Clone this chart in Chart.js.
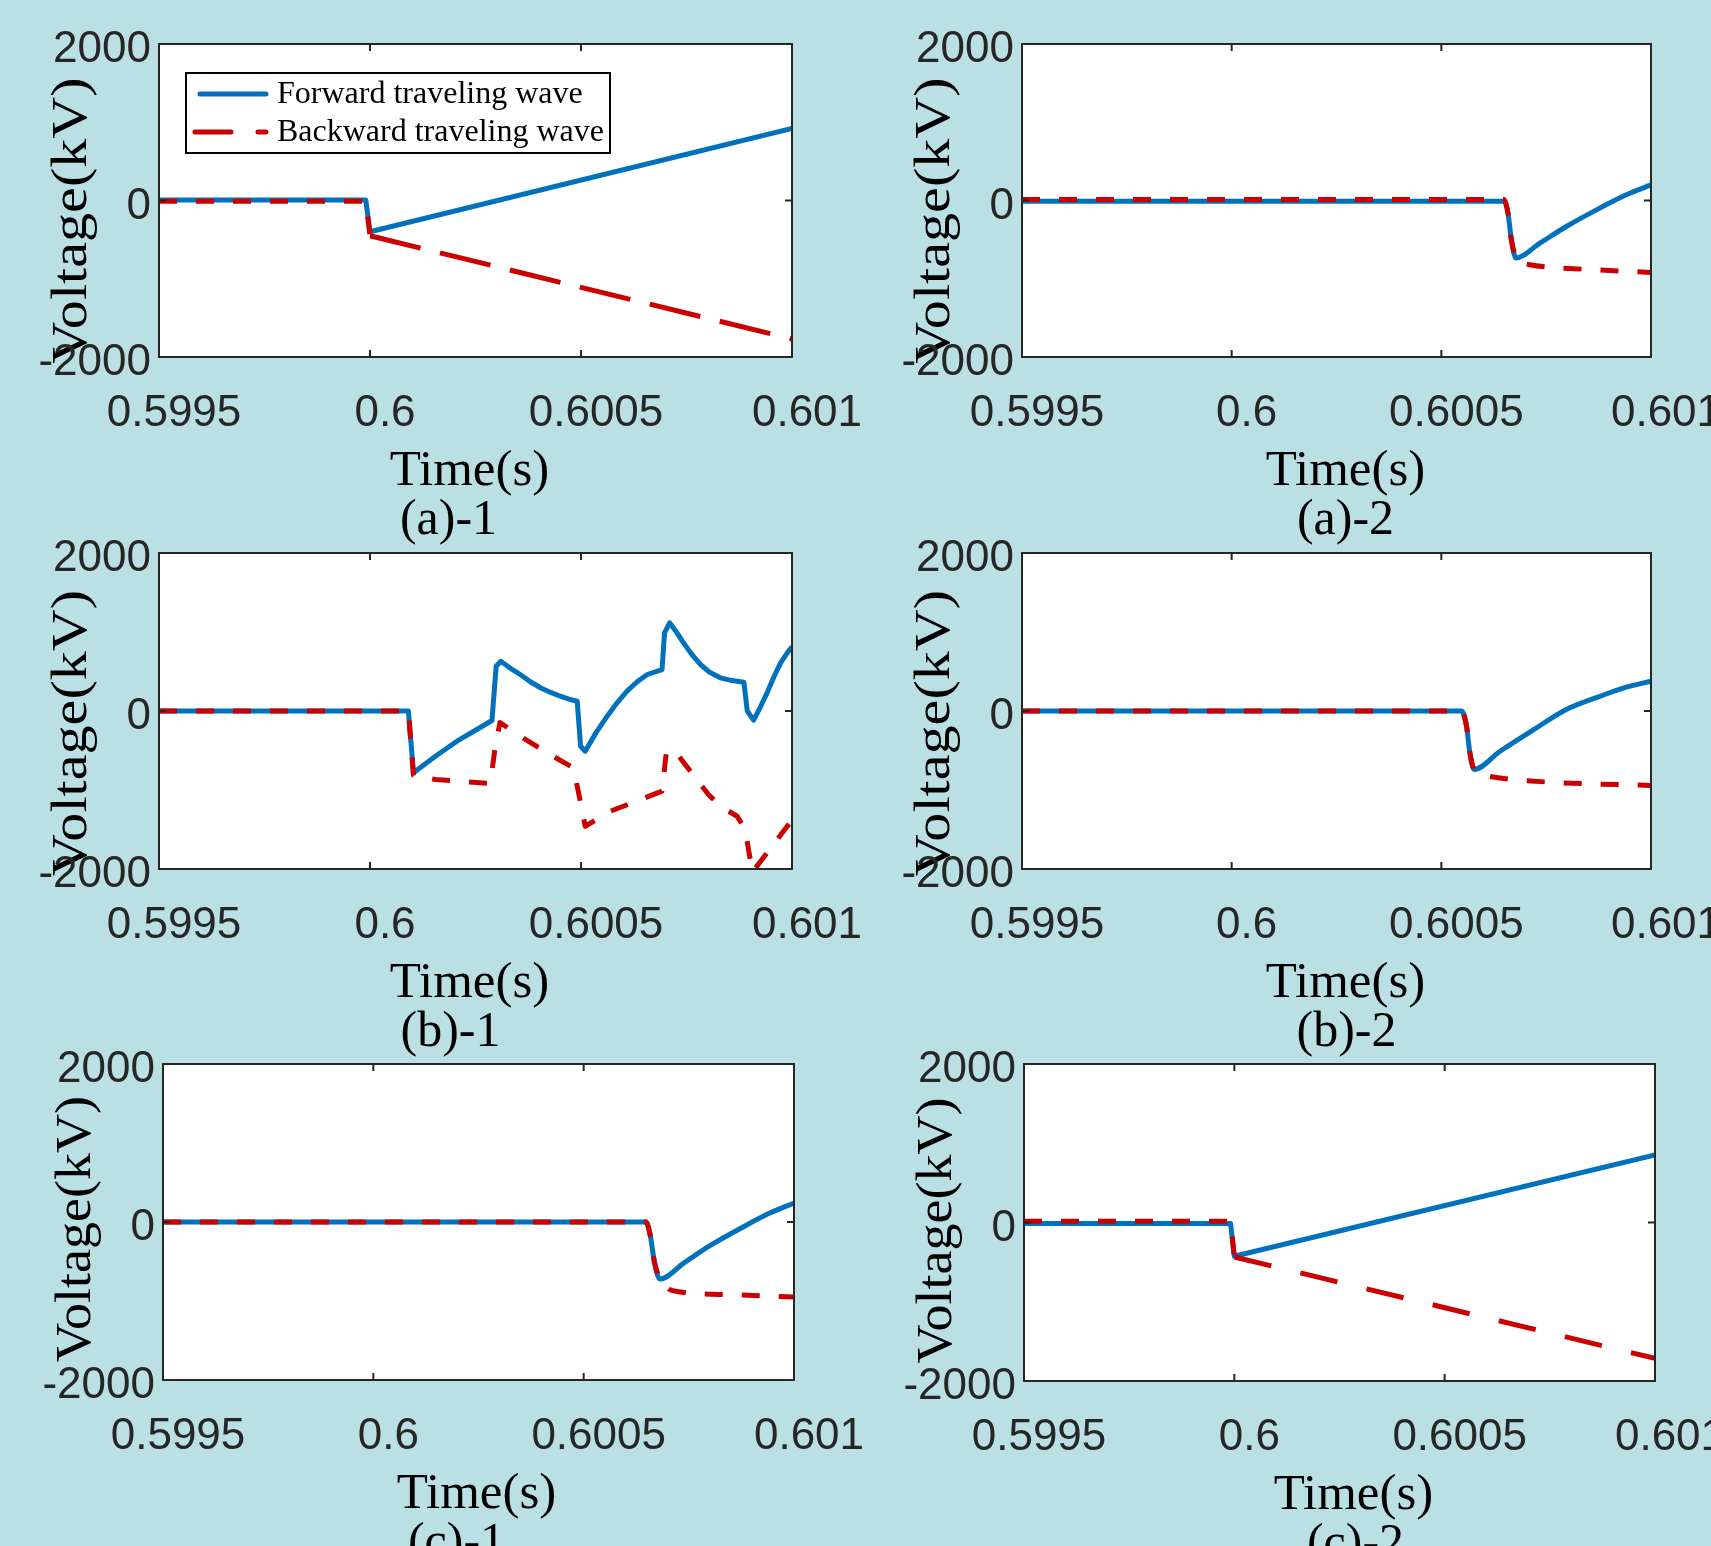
<!DOCTYPE html>
<html>
<head>
<meta charset="utf-8">
<title>Forward and backward traveling waves</title>
<script src="https://cdn.jsdelivr.net/npm/chart.js@4.4.1/dist/chart.umd.min.js"></script>
<style>
  html, body { margin: 0; padding: 0; }
  body { width: 1711px; height: 1546px; background: #bae0e3; position: relative; overflow: hidden; }
  canvas { position: absolute; }
</style>
</head>
<body>
<canvas id="a1"></canvas>
<canvas id="a2"></canvas>
<canvas id="b1"></canvas>
<canvas id="b2"></canvas>
<canvas id="c1"></canvas>
<canvas id="c2"></canvas>
<script>
// Axis ticks shared by all six panels
const xTicks = [0.5995, 0.6, 0.6005, 0.601];
const xTickLabels = ['0.5995', '0.6', '0.6005', '0.601'];
const yTicks = [-2000, 0, 2000];
const yTickLabels = ['-2000', '0', '2000'];

const seriesNames = ['Forward traveling wave', 'Backward traveling wave'];

// (a)-1
const timeA1 = [0.5995, 0.59999, 0.6000, 0.601];
const fwdA1 = [5, 5, -400, 922];
const bwdA1 = [-10, -10, -450, -1770];

// (a)-2
const timeA2f = [0.5995, 0.600649, 0.600659, 0.600667, 0.600678, 0.600735, 0.600798, 0.600878, 0.600941, 0.601];
const fwdA2 = [-8, -8, -161, -502, -735, -545, -332, -97, 73, 200];
const timeA2b = [0.5995, 0.600649, 0.600659, 0.600667, 0.600678, 0.600690, 0.600711, 0.600760, 0.600838, 0.601];
const bwdA2 = [13, 13, -161, -502, -735, -790, -821, -855, -878, -919];

// (b)-1
const timeB1f = [0.5995, 0.600091, 0.600103, 0.600155, 0.600206, 0.600253, 0.600289, 0.600299, 0.600310,
  0.600333, 0.600356, 0.600380, 0.600404, 0.600428, 0.600451, 0.600471, 0.600491, 0.600499, 0.600510,
  0.600535, 0.600562, 0.600585, 0.600609, 0.600633, 0.600657, 0.600692, 0.600698, 0.600710, 0.600726,
  0.600743, 0.600762, 0.600783, 0.600805, 0.600830, 0.600858, 0.600886, 0.600894, 0.600909, 0.600925,
  0.600941, 0.600957, 0.600973, 0.600988, 0.601];
const fwdB1 = [0, 0, -782, -572, -382, -234, -120, 567, 630,
  540, 462, 370, 294, 235, 187, 150, 124, -446, -509,
  -280, -66, 100, 251, 370, 462, 525, 990, 1116, 1000,
  863, 720, 589, 490, 420, 385, 365, 0, -116, 50,
  230, 430, 610, 730, 813];
const timeB1b = [0.5995, 0.600091, 0.600103, 0.600155, 0.600285, 0.600297, 0.600308, 0.600368, 0.600447,
  0.600482, 0.600499, 0.600510, 0.600570, 0.600692, 0.600702, 0.600720, 0.600747, 0.600802, 0.600830,
  0.600870, 0.600889, 0.600906, 0.600992, 0.601];
const bwdB1 = [0, 0, -815, -867, -918, -446, -146, -360, -614,
  -719, -1160, -1459, -1268, -1015, -529, -487, -677, -1057, -1205,
  -1332, -1500, -2040, -1437, -1380];

// (b)-2
const timeB2f = [0.5995, 0.600548, 0.600560, 0.600568, 0.600578, 0.600640, 0.600719, 0.600798, 0.600878, 0.600941, 0.601];
const fwdB2 = [0, 0, -190, -527, -740, -510, -240, 19, 185, 301, 377];
const timeB2b = [0.5995, 0.600548, 0.600560, 0.600568, 0.600578, 0.600600, 0.600640, 0.600759, 0.601];
const bwdB2 = [0, 0, -190, -527, -740, -810, -848, -901, -943];

// (c)-1
const timeC1f = [0.5995, 0.600648, 0.600658, 0.600668, 0.600681, 0.600738, 0.600800, 0.600880, 0.600941, 0.601];
const fwdC1 = [0, 0, -160, -500, -722, -520, -300, -60, 110, 240];
const timeC1b = [0.5995, 0.600648, 0.600658, 0.600668, 0.600681, 0.600692, 0.600709, 0.600846, 0.601];
const bwdC1 = [0, 0, -160, -500, -722, -790, -865, -920, -949];

// (c)-2
const timeC2 = [0.5995, 0.599991, 0.6000, 0.601];
const fwdC2 = [-13, -13, -426, 852];
const bwdC2 = [17, 17, -435, -1715];

const BLUE = '#0072bd';
const RED = '#cc0000';
const INK = '#262626';
const SERIF = '"Liberation Serif", "Times New Roman", serif';
const SANS = '"Liberation Sans", Arial, sans-serif';
const SHORT_DASH = [18, 19];

// Where each panel sits on the page (plot box and its canvas)
const panels = [
  { id: 'a1', name: '(a)-1', fwd: [timeA1, fwdA1], bwd: [timeA1, bwdA1],
    box: { x: 159, y: 44, w: 633, h: 313 }, canvas: { x: 0, y: 0, w: 880, h: 560 },
    yTitleStretch: 1.14, yTitleDy: 20, xTitleDx: -6, nameDx: -27, legend: true,
    longDashFrom: 0.6, longDash: [52, 20] },
  { id: 'a2', name: '(a)-2', fwd: [timeA2f, fwdA2], bwd: [timeA2b, bwdA2],
    box: { x: 1022, y: 44, w: 629, h: 313 }, canvas: { x: 860, y: 0, w: 920, h: 560 },
    yTitleStretch: 1.14, yTitleDy: 20, xTitleDx: 9, nameDx: 9, smooth: true },
  { id: 'b1', name: '(b)-1', fwd: [timeB1f, fwdB1], bwd: [timeB1b, bwdB1],
    box: { x: 159, y: 553, w: 633, h: 316 }, canvas: { x: 0, y: 509, w: 880, h: 560 },
    yTitleStretch: 1.14, yTitleDy: 22, xTitleDx: -6, nameDx: -25 },
  { id: 'b2', name: '(b)-2', fwd: [timeB2f, fwdB2], bwd: [timeB2b, bwdB2],
    box: { x: 1022, y: 553, w: 629, h: 316 }, canvas: { x: 860, y: 509, w: 920, h: 560 },
    yTitleStretch: 1.14, yTitleDy: 22, xTitleDx: 9, nameDx: 10, smooth: true },
  { id: 'c1', name: '(c)-1', fwd: [timeC1f, fwdC1], bwd: [timeC1b, bwdC1],
    box: { x: 163, y: 1064, w: 631, h: 316 }, canvas: { x: 0, y: 1020, w: 880, h: 526 },
    yTitleStretch: 1.06, yTitleDy: 7, xTitleDx: -2, nameDx: -22, smooth: true },
  { id: 'c2', name: '(c)-2', fwd: [timeC2, fwdC2], bwd: [timeC2, bwdC2],
    box: { x: 1024, y: 1064, w: 631, h: 317 }, canvas: { x: 860, y: 1020, w: 920, h: 526 },
    yTitleStretch: 1.06, yTitleDy: 8, xTitleDx: 14, nameDx: 16,
    longDashFrom: 0.6, longDash: [38, 30] }
];

function toPoints(times, values) {
  return times.map((t, i) => ({ x: t, y: values[i] }));
}

// White axes background, MATLAB style box with inward ticks, titles and legend
function framePlugin(p) {
  return {
    id: 'frame',
    beforeDraw(chart) {
      const { ctx, chartArea: a } = chart;
      ctx.save();
      ctx.fillStyle = '#ffffff';
      ctx.fillRect(a.left, a.top, a.right - a.left, a.bottom - a.top);

      // y title sits under the tick labels, as in the original figure
      ctx.fillStyle = '#000000';
      ctx.textAlign = 'center';
      ctx.textBaseline = 'alphabetic';
      ctx.translate(a.left - 73, (a.top + a.bottom) / 2 + p.yTitleDy);
      ctx.rotate(-Math.PI / 2);
      ctx.scale(p.yTitleStretch, 1);
      ctx.font = '51px ' + SERIF;
      ctx.fillText('Voltage(kV)', 0, 0);
      ctx.restore();
    },
    afterDatasetsDraw(chart) {
      const { ctx, chartArea: a, scales } = chart;
      ctx.save();
      ctx.strokeStyle = INK;
      ctx.lineWidth = 2;
      ctx.strokeRect(a.left, a.top, a.right - a.left, a.bottom - a.top);
      ctx.beginPath();
      scales.x.ticks.forEach(t => {
        const px = scales.x.getPixelForValue(t.value);
        ctx.moveTo(px, a.bottom); ctx.lineTo(px, a.bottom - 7);
        ctx.moveTo(px, a.top); ctx.lineTo(px, a.top + 7);
      });
      scales.y.ticks.forEach(t => {
        const py = scales.y.getPixelForValue(t.value);
        ctx.moveTo(a.left, py); ctx.lineTo(a.left + 7, py);
        ctx.moveTo(a.right, py); ctx.lineTo(a.right - 7, py);
      });
      ctx.stroke();
      ctx.restore();
    },
    afterDraw(chart) {
      const { ctx, chartArea: a } = chart;
      const midX = (a.left + a.right) / 2;
      ctx.save();
      ctx.fillStyle = '#000000';
      ctx.textAlign = 'center';
      ctx.textBaseline = 'alphabetic';
      ctx.font = '51px ' + SERIF;
      ctx.fillText('Time(s)', midX + p.xTitleDx, a.bottom + 128);
      ctx.font = '50px ' + SERIF;
      ctx.fillText(p.name, midX + p.nameDx, a.bottom + 177);
      ctx.restore();

      if (p.legend) drawLegend(chart);
    }
  };
}

function drawLegend(chart) {
  const { ctx, chartArea: a } = chart;
  const ds = chart.data.datasets;
  const left = a.left + 27, top = a.top + 29;
  ctx.save();
  ctx.fillStyle = '#ffffff';
  ctx.fillRect(left, top, 424, 80);
  ctx.strokeStyle = '#000000';
  ctx.lineWidth = 2;
  ctx.strokeRect(left, top, 424, 80);

  ctx.lineCap = 'round';
  ctx.lineWidth = 5;
  ctx.strokeStyle = ds[0].borderColor;
  ctx.beginPath();
  ctx.moveTo(left + 14, top + 21); ctx.lineTo(left + 80, top + 21);
  ctx.stroke();

  ctx.strokeStyle = ds[1].borderColor;
  ctx.setLineDash([36, 27]);
  ctx.beginPath();
  ctx.moveTo(left + 9, top + 59); ctx.lineTo(left + 80, top + 59);
  ctx.stroke();
  ctx.setLineDash([]);

  ctx.fillStyle = '#000000';
  ctx.font = '32px ' + SERIF;
  ctx.textAlign = 'left';
  ctx.textBaseline = 'alphabetic';
  ctx.fillText(ds[0].label, left + 91, top + 30);
  ctx.fillText(ds[1].label, left + 91, top + 68);
  ctx.restore();
}

function makeChart(p) {
  const el = document.getElementById(p.id);
  el.width = p.canvas.w;
  el.height = p.canvas.h;
  el.style.left = p.canvas.x + 'px';
  el.style.top = p.canvas.y + 'px';

  const padTop = p.box.y - p.canvas.y;
  const padRight = p.canvas.x + p.canvas.w - (p.box.x + p.box.w);
  const yAxisWidth = p.box.x - p.canvas.x;
  const xAxisHeight = p.canvas.h - padTop - p.box.h;
  const curve = p.smooth ? 'monotone' : 'default';

  const backward = {
    label: seriesNames[1], data: toPoints(p.bwd[0], p.bwd[1]), borderColor: RED,
    borderWidth: 5, borderDash: SHORT_DASH, order: 0, clip: 0, cubicInterpolationMode: curve
  };
  if (p.longDashFrom !== undefined) {
    backward.segment = {
      borderDash: s => (s.p0.parsed.x >= p.longDashFrom - 1e-9 ? p.longDash : SHORT_DASH)
    };
  }

  return new Chart(el, {
    type: 'line',
    data: {
      datasets: [
        { label: seriesNames[0], data: toPoints(p.fwd[0], p.fwd[1]), borderColor: BLUE,
          borderWidth: 5, order: 1, clip: 0, cubicInterpolationMode: curve },
        backward
      ]
    },
    options: {
      responsive: false,
      animation: false,
      devicePixelRatio: 1,
      layout: { padding: { top: padTop, right: padRight, bottom: 0, left: 0 } },
      elements: {
        point: { radius: 0 },
        line: { tension: 0, fill: false, borderJoinStyle: 'round' }
      },
      scales: {
        x: {
          type: 'linear',
          min: 0.5995,
          max: 0.601,
          afterBuildTicks: s => { s.ticks = xTicks.map(v => ({ value: v })); },
          afterFit: s => { s.height = xAxisHeight; },
          grid: { display: false, drawTicks: false },
          border: { display: false },
          ticks: {
            callback: (v, i) => xTickLabels[i],
            autoSkip: false,
            maxRotation: 0,
            padding: 30,
            labelOffset: 15,
            color: INK,
            font: { family: SANS, size: 44 }
          }
        },
        y: {
          type: 'linear',
          min: -2000,
          max: 2000,
          afterBuildTicks: s => { s.ticks = yTicks.map(v => ({ value: v })); },
          afterFit: s => { s.width = yAxisWidth; },
          grid: { display: false, drawTicks: false },
          border: { display: false },
          ticks: {
            callback: (v, i) => yTickLabels[i],
            padding: 8,
            labelOffset: 6,
            color: INK,
            font: { family: SANS, size: 44 }
          }
        }
      },
      plugins: {
        legend: { display: false },
        tooltip: { enabled: false }
      }
    },
    plugins: [framePlugin(p)]
  });
}

panels.forEach(makeChart);
</script>
</body>
</html>
